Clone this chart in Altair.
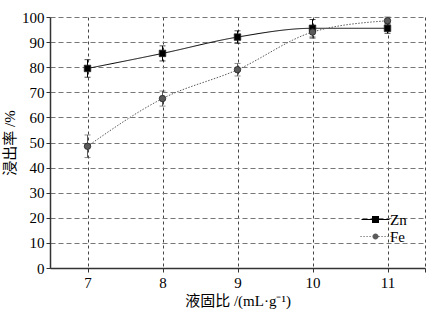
import altair as alt
import pandas as pd

# ---- data ----
ratio = [7, 8, 9, 10, 11]
zn = [79.5, 85.5, 92.0, 95.5, 95.5]
zn_err = [3.5, 3.0, 2.5, 3.5, 2.0]
fe = [48.5, 67.5, 79.0, 94.0, 98.5]
fe_err = [4.5, 3.0, 2.5, 2.5, 1.5]
series = ["Zn", "Fe"]
x_ticks = [7, 8, 9, 10, 11, 11.5]
y_ticks = list(range(0, 101, 10))

rows = []
for s, vals, errs in [("Zn", zn, zn_err), ("Fe", fe, fe_err)]:
    for x, v, e in zip(ratio, vals, errs):
        rows.append({"ratio": x, "rate": v, "lo": v - e, "hi": v + e, "series": s})
df = pd.DataFrame(rows)

FONT = "Liberation Serif, Noto Sans CJK SC"
colors = ["#000000", "#5a5a5a"]

# legend symbols: line segment + marker (custom paths)
zn_path = "M-2.8,-0.1H2.8V0.1H-2.8Z M-0.7,-0.7H0.7V0.7H-0.7Z"
dots = "".join(
    f"M{-3.0 + 0.6 * i:.2f},-0.1h0.22v0.2h-0.22Z" for i in range(11)
)
fe_path = dots + " M0.6,0A0.6,0.6 0 1,1 -0.6,0A0.6,0.6 0 1,1 0.6,0Z"

x_enc = alt.X(
    "ratio:Q",
    scale=alt.Scale(domain=[6.5, 11.5], nice=False, zero=False),
    axis=alt.Axis(
        values=x_ticks,
        labelExpr="datum.value == 11.5 ? '' : datum.label",
        title="液固比 /(mL·g⁻¹)",
        grid=True,
        gridDash=[3, 3],
        gridColor="#444444",
        gridWidth=1,
        tickSize=4,
        tickColor="#333333",
        domainColor="#333333",
        domainWidth=1.5,
        labelPadding=3,
        labelFont=FONT,
        labelFontSize=15,
        labelColor="black",
        titleFont=FONT,
        titleFontSize=15,
        titleColor="black",
        titleFontWeight="normal",
        titlePadding=3,
    ),
)
y_scale = alt.Scale(domain=[0, 100], nice=False)
y_axis = alt.Axis(
    values=y_ticks,
    title="浸出率 /%",
    grid=True,
    gridDash=[5, 3],
    gridColor="#777777",
    gridWidth=1.2,
    tickSize=4,
    tickColor="#333333",
    domainColor="#333333",
    domainWidth=1.5,
    labelPadding=2,
    labelFont=FONT,
    labelFontSize=15,
    labelColor="black",
    titleFont=FONT,
    titleFontSize=15,
    titleColor="black",
    titleFontWeight="normal",
    titlePadding=4,
)


def col(legend=None):
    return alt.Color(
        "series:N", scale=alt.Scale(domain=series, range=colors), legend=legend
    )


base = alt.Chart(df)

errbars = base.mark_errorbar(ticks={"size": 6}, thickness=1).encode(
    x=x_enc,
    y=alt.Y("lo:Q", scale=y_scale, axis=y_axis),
    y2="hi:Q",
    color=col(),
)

lines = base.mark_line(interpolate="monotone", strokeWidth=1).encode(
    x=x_enc,
    y=alt.Y("rate:Q", scale=y_scale, axis=y_axis),
    color=col(),
    strokeDash=alt.StrokeDash(
        "series:N",
        scale=alt.Scale(domain=series, range=[[1, 0], [1.5, 1.5]]),
        legend=None,
    ),
)

points = base.mark_point(
    filled=True, opacity=1, size=42, stroke="#222222", strokeWidth=0.8
).encode(
    x=x_enc,
    y=alt.Y("rate:Q", scale=y_scale, axis=y_axis),
    color=col(),
    shape=alt.Shape(
        "series:N", scale=alt.Scale(domain=series, range=["square", "circle"]), legend=None
    ),
)

leg = alt.Legend(
    title=None,
    orient="none",
    legendX=318,
    legendY=195,
    symbolSize=100,
    symbolOpacity=1,
    symbolStrokeWidth=0,
    labelOffset=7,
    labelFont=FONT,
    labelFontSize=15,
    labelColor="black",
    rowPadding=1,
    padding=0,
)

legend_layer = base.mark_point(filled=True, opacity=0).encode(
    x=x_enc,
    y=alt.Y("rate:Q", scale=y_scale, axis=y_axis),
    color=col(leg),
    shape=alt.Shape(
        "series:N", scale=alt.Scale(domain=series, range=[zn_path, fe_path]), legend=leg
    ),
)

chart = (
    alt.layer(errbars, lines, points, legend_layer)
    .resolve_scale(color="independent", shape="independent", strokeDash="independent")
    .properties(
        width=375,
        height=251,
        autosize=alt.AutoSizeParams(type="none"),
        padding={"left": 50, "top": 17, "right": 6, "bottom": 46},
        background="white",
    )
    .configure_view(stroke=None)
)

chart.save("out.html", embed_options={"renderer": "svg", "actions": False})
